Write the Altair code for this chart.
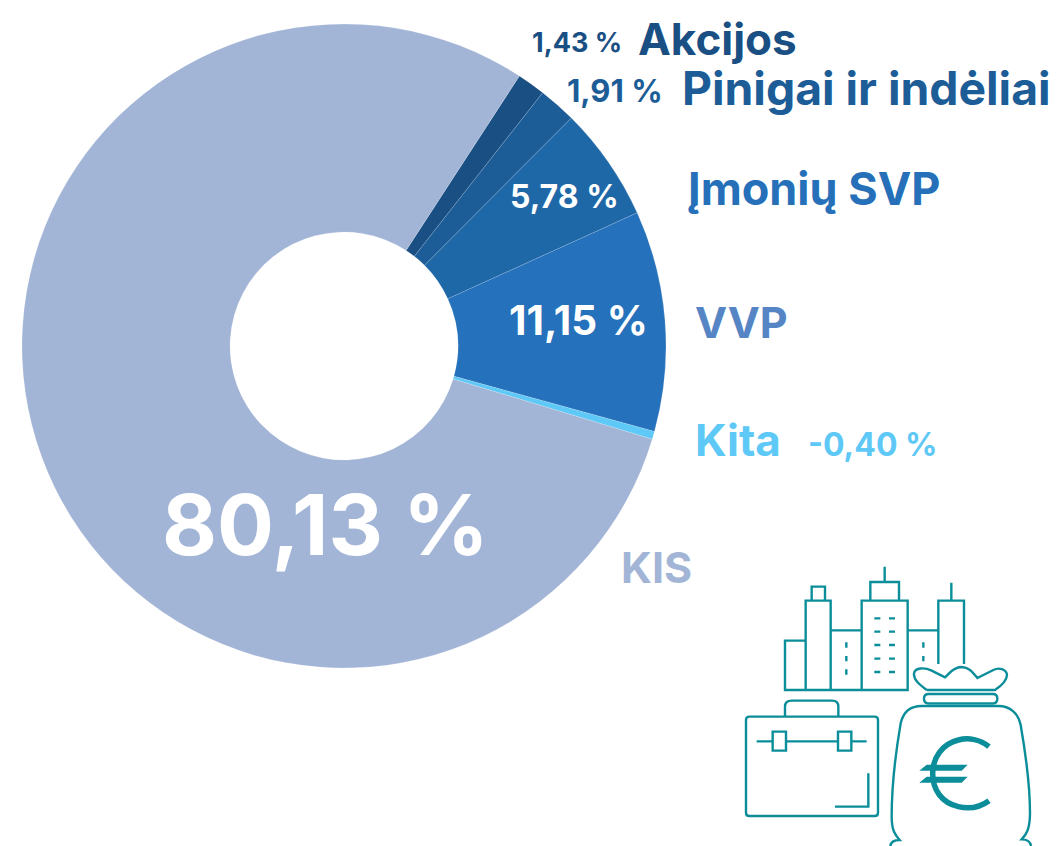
import math
import altair as alt
import pandas as pd

categories = ["Akcijos", "Pinigai ir indėliai", "Įmonių SVP", "VVP", "Kita", "KIS"]
values = [1.43, 1.91, 5.78, 11.15, -0.40, 80.13]
slice_colors = ["#1a4f84", "#1c5c97", "#1f68a8", "#2571bb", "#5ec8f6", "#a3b5d6"]

FONT = "Inter"
TEAL = "#0b8e9a"
start = math.radians(33)
magnitudes = [abs(v) for v in values]
df = pd.DataFrame({"category": categories, "value": values, "magnitude": magnitudes,
                   "idx": list(range(len(values)))})


def pct(v):
    return f"{v:.2f} %".replace(".", ",")


arc = alt.Chart(df).mark_arc(stroke="#ffffff", strokeWidth=0.3, strokeOpacity=0.5).encode(
    x=alt.value(336), y=alt.value(338),
    radius=alt.value(322), radius2=alt.value(114),
    theta=alt.Theta("magnitude:Q", stack=True,
                    scale=alt.Scale(domain=[0, sum(magnitudes)], range=[start, start + 2 * math.pi])),
    order=alt.Order("idx:Q"),
    color=alt.Color("category:N", scale=alt.Scale(domain=categories, range=slice_colors), legend=None),
)


def label(text, x, y, size, color):
    return alt.Chart(pd.DataFrame({"t": [text]})).mark_text(
        align="left", baseline="alphabetic", font=FONT, fontWeight=700, fontSize=size, color=color
    ).encode(x=alt.value(x - 8), y=alt.value(y - 8), text="t:N")


texts = [
    label(pct(values[0]), 532, 52, 27, slice_colors[0]),
    label(categories[0], 638, 55, 44, slice_colors[0]),
    label(pct(values[1]), 567, 102, 31, slice_colors[1]),
    label(categories[1], 682, 105, 46.3, slice_colors[1]),
    label(categories[2], 688, 205, 45, "#2570b8"),
    label(pct(values[2]), 510, 208, 32, "#ffffff"),
    label(pct(values[3]), 509, 335, 40.5, "#ffffff"),
    label(categories[3], 695, 338, 43, "#5585c4"),
    label(categories[4], 695, 456, 44, slice_colors[4]),
    label(pct(values[4]), 808, 456, 32, slice_colors[4]),
    label(categories[5], 621, 583, 43, slice_colors[5]),
    label(pct(values[5]), 162, 555, 84.5, "#ffffff"),
]

# Decorative icon: SVG paths in a 3x grid anchored at page (735, 560)
ICON_LINES = (
    "M212 242H150V390H518V122H380V390 M212 390V122H287V390 M230 120V80H270V120 M287 211H380 "
    "M406 122V66H492V122 M449 20V66 M518 211H610 M610 312V122H687V312 M649 68V122 "
    "M418 175H436 M462 175H480 M418 215H436 M462 215H480 M418 255H436 M462 255H480 "
    "M418 296H436 M462 296H480 M418 336H436 M462 336H480 "
    "M334 247V263 M334 288V304 M334 328V344 M565 247V263 M565 288V304 "
    "M575 390C555 375 535 360 537 340C540 322 570 322 590 332L630 352C640 345 650 322 680 321"
    "C705 322 715 340 727 354L775 330C795 320 815 330 816 345C815 365 795 380 780 390H575 "
    "M581 402H773Q787 402 787 416Q787 430 773 430H581Q567 430 567 416Q567 402 581 402Z "
    "M466 858C468 842 480 840 494 840C480 825 470 810 470 770C470 680 485 560 497 490"
    "C505 455 525 438 560 438H790C825 438 850 460 857 495C870 570 885 680 885 760"
    "C885 810 872 825 860 838C875 838 886 845 888 858 "
    "M43 470H419Q429 470 429 480V758Q429 768 419 768H43Q33 768 33 758V480Q33 470 43 470Z "
    "M150 470V440Q150 422 170 422H292Q310 422 310 440V470 "
    "M65 544H113M153 544H309M349 544H395 M113 515H153V572H113Z M309 515H349V572H309Z "
    "M400 640V740H300"
)
EURO_ARC = ("M762 560C735 538 700 532 670 540C620 552 593 595 593 640"
            "C593 690 620 728 670 740C700 747 735 742 762 722")
EURO_BARS = "M575 614H698L680 632H553Z M575 650H698L680 668H553Z"


def icon(path, **kw):
    return alt.Chart(pd.DataFrame({"a": [0]})).mark_point(shape=path, size=4 / 9, opacity=1, **kw).encode(
        x=alt.value(727), y=alt.value(552))


icons = [
    icon(ICON_LINES, filled=False, stroke=TEAL, strokeWidth=2.4),
    icon(EURO_ARC, filled=False, stroke=TEAL, strokeWidth=5.5),
    icon(EURO_BARS, filled=True, fill=TEAL, strokeWidth=0),
]

chart = alt.layer(arc, *texts, *icons).properties(
    width=1045, height=838, padding=0, autosize=alt.AutoSizeParams(type="none"), background="#ffffff"
).configure_view(stroke=None)

chart.save("out.html", embed_options={"renderer": "svg", "actions": False})
